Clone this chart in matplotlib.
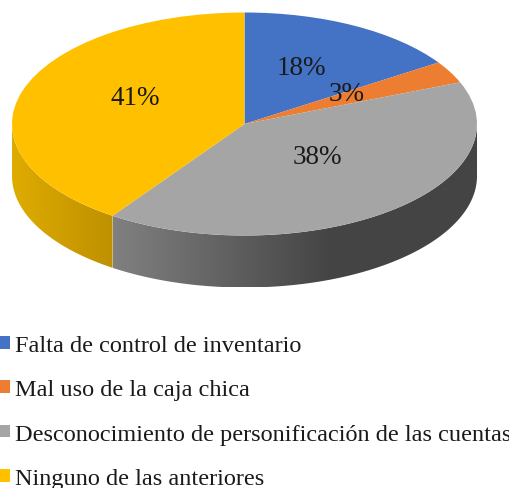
import numpy as np
import matplotlib
matplotlib.use('Agg')
import matplotlib.pyplot as plt
from matplotlib.colors import LinearSegmentedColormap
from matplotlib.patches import Polygon

plt.rcParams['font.family'] = ['Liberation Serif', 'DejaVu Sans']

categories = ['Falta de control de inventario', 'Mal uso de la caja chica',
              'Desconocimiento de personificación de las cuentas', 'Ninguno de las anteriores']
# printed labels, and the slice shares as they appear after the 3D tilt
percent_labels = ['18%', '3%', '38%', '41%']
drawn_shares = [15.7, 3.2, 40.7, 40.4]

colors = ['#4472C4', '#ED7D31', '#A5A5A5', '#FFC000']
wall_colors = [None, None,
               [(0, '#808080'), (0.6, '#444444'), (1, '#444444')],
               [(0, '#DEAC00'), (1, '#BF9000')]]

# pie geometry in pixels
W, H = 510, 489
cx, cy, rx, ry = 244.5, 125, 232.5, 111.5
depth = 52 / ry


def px(x, y):
    return (x - cx) / rx, (cy - y) / ry


fig = plt.figure(figsize=(W / 100, H / 100), dpi=100)
ax = fig.add_axes([0, 0, 1, 1])

wedges, _ = ax.pie(drawn_shares, colors=colors, startangle=90, counterclock=False,
                   radius=1, wedgeprops={'linewidth': 0, 'zorder': 3})

# side wall of the slices on the front half
ends = 90 - np.cumsum(drawn_shares) * 3.6
starts = np.r_[90, ends[:-1]]
for a0, a1, wall in zip(starts, ends, wall_colors):
    if wall is None:
        continue
    t = np.radians(np.linspace(a0, a1, 1000))
    t = t[np.sin(t) <= 0]
    x, y = np.cos(t), np.sin(t)
    pts = np.r_[np.c_[x, y], np.c_[x[::-1], y[::-1] - depth]]
    cmap = LinearSegmentedColormap.from_list('wall', wall)
    img = ax.imshow(np.linspace(0, 1, 256).reshape(1, -1), cmap=cmap, aspect='auto', zorder=2,
                    extent=[x.min(), x.max(), -1 - depth, 1])
    poly = Polygon(pts, closed=True, transform=ax.transData, fc='none', ec='none')
    ax.add_patch(poly)
    img.set_clip_path(poly)

label_xy = [(301, 69), (347, 95), (317, 158), (135, 99)]
for txt, (lx, ly) in zip(percent_labels, label_xy):
    tx, ty = px(lx, ly)
    ax.text(tx, ty, txt, fontsize=19.5, color='#1a1a1a', ha='center', va='center', zorder=5)

ax.set_aspect('auto')
ax.set_xlim(px(0, 0)[0], px(W, 0)[0])
ax.set_ylim(px(0, H)[1], px(0, 0)[1])
ax.axis('off')

leg = ax.legend(wedges, categories, loc='upper left', bbox_to_anchor=(0, 1 - 336 / H),
                frameon=False, fontsize=17.5, borderpad=0, borderaxespad=0,
                handlelength=0.41, handleheight=0.41, handletextpad=0.2,
                labelspacing=0.96, labelcolor='#1a1a1a')

fig.savefig('out.png', dpi=100)
